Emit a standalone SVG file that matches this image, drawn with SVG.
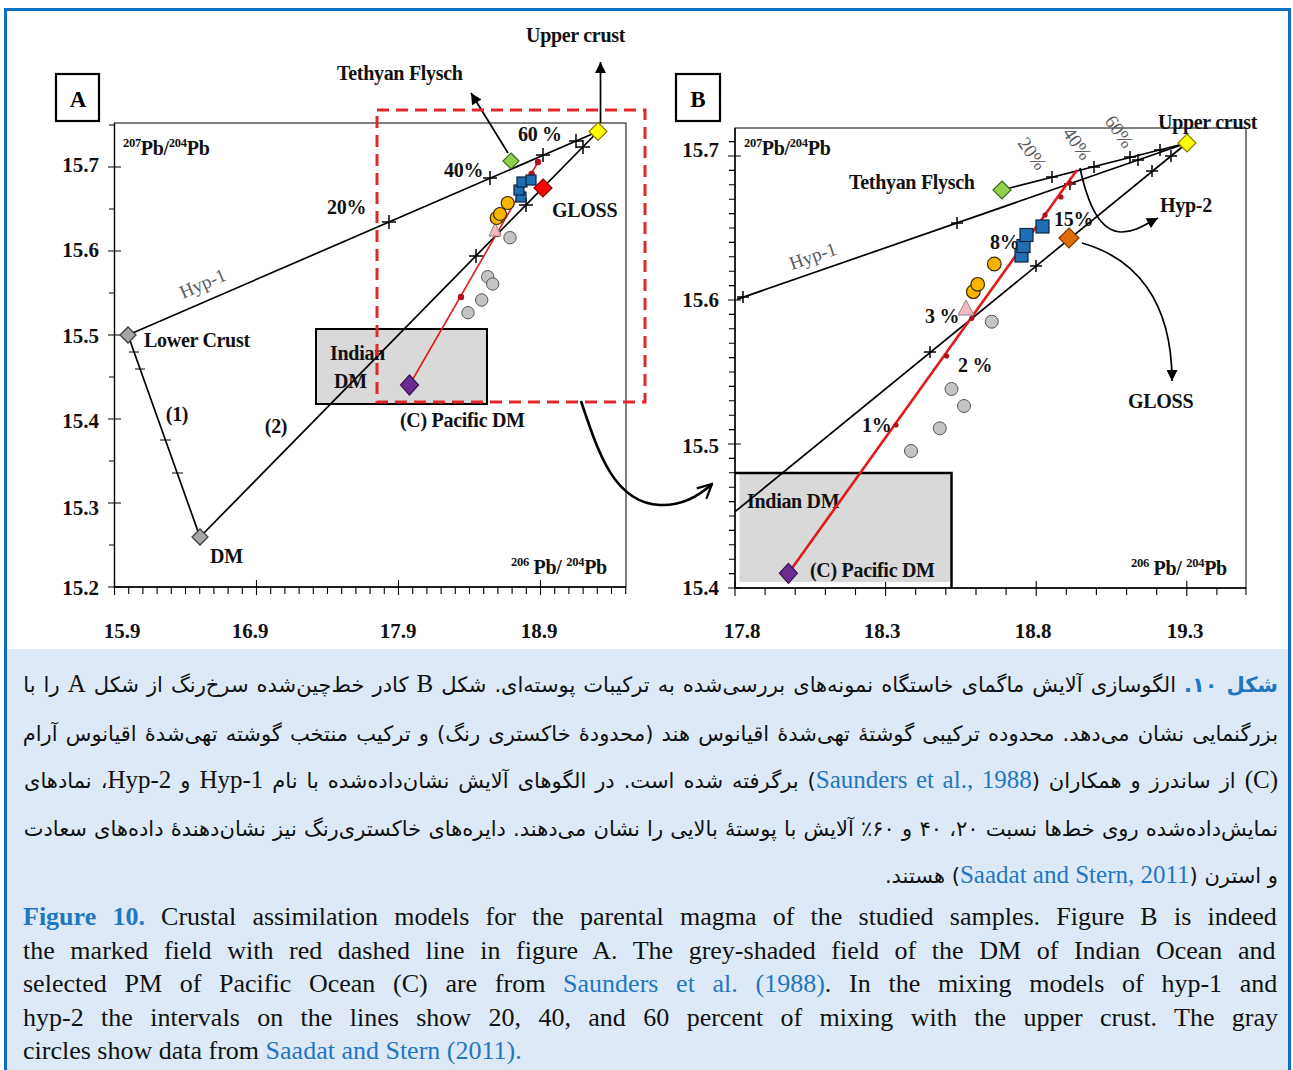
<svg xmlns="http://www.w3.org/2000/svg" width="1293" height="1070" viewBox="0 0 1293 1070">
<defs>
<style>
.frm{fill:none;stroke:#000;stroke-width:1}
.ax{fill:none;stroke:#000;stroke-width:1.4}
.tk{fill:none;stroke:#000;stroke-width:1.1}
.ln{fill:none;stroke:#000;stroke-width:1.7}
.cr{fill:none;stroke:#000;stroke-width:1.5}
.rd{fill:#b0101e}
.lb{font-family:'Liberation Serif',serif;font-weight:bold;font-size:20px;letter-spacing:-0.3px;fill:#111}
.nm{font-family:'Liberation Serif',serif;font-weight:bold;font-size:21px;fill:#111}
.gy{font-family:'Liberation Serif',serif;font-size:19px;fill:#5a5a5a}
.sup{font-size:12.5px}
.pbox{fill:#fff;stroke:#000;stroke-width:2.2}
.pan{font-family:'Liberation Serif',serif;font-weight:bold;font-size:23px;fill:#000}
.gd{fill:#a6a6a6;stroke:#404040;stroke-width:1.3}
.gc{fill:#c4c4c4;stroke:#555;stroke-width:1}
.oc{fill:#f7b500;stroke:#3a2a00;stroke-width:1.2}
.bs{fill:#1f6fb5;stroke:#0b2340;stroke-width:1.2}
.pt{fill:#f3b9c0;stroke:#888;stroke-width:1}
.idm{fill:#d9d9d9}
.en{font-family:'Liberation Serif',serif;font-size:26px;fill:#111}
.bl{fill:#1f77c2}
.fa{font-family:'DejaVu Sans',sans-serif;font-size:21px;fill:#111}
.la{font-family:'Liberation Serif',serif;font-size:25px}
</style>
<marker id="ah" viewBox="0 0 10 10" refX="10" refY="5" markerUnits="userSpaceOnUse" markerWidth="13" markerHeight="11" orient="auto"><path d="M0,0 L10,5 L0,10 z" fill="#000"/></marker>
<marker id="ch" viewBox="0 0 12 12" refX="11" refY="6" markerUnits="userSpaceOnUse" markerWidth="17" markerHeight="17" orient="auto"><path d="M1,1 L11,6 L1,11" fill="none" stroke="#000" stroke-width="1.6"/></marker>
</defs>

<rect x="0" y="0" width="1293" height="1070" fill="#fff"/>
<rect x="6.5" y="649" width="1282" height="421" fill="#dde9f6"/>
<rect x="5.5" y="9.5" width="1284" height="1075" fill="none" stroke="#0a6fc2" stroke-width="3"/>

<!-- ================= PANEL A ================= -->
<g id="panelA-axes">
<rect class="frm" x="114.5" y="123" width="511.5" height="464"/>
<path class="ax" d="M114.5 123V587H626"/>
<path class="tk" d="M108 587h13M108 503h13M108 419h13M108 335h13M108 251h13M108 167h13M109 545h5.5M109 461h5.5M109 377h5.5M109 293h5.5M109 209h5.5M109 125h5.5"/>
<path class="tk" d="M114.5 580v15M256.5 580v15M398.5 580v15M540.5 580v15M128.7 587v7M142.9 587v7M157.1 587v7M171.3 587v7M185.5 587v7M199.7 587v7M213.9 587v7M228.1 587v7M242.3 587v7M270.7 587v7M284.9 587v7M299.1 587v7M313.3 587v7M327.5 587v7M341.7 587v7M355.9 587v7M370.1 587v7M384.3 587v7M412.7 587v7M426.9 587v7M441.1 587v7M455.3 587v7M469.5 587v7M483.7 587v7M497.9 587v7M512.1 587v7M526.3 587v7M554.7 587v7M568.9 587v7M583.1 587v7M597.3 587v7M611.5 587v7M625.7 587v7"/>
<g class="nm" text-anchor="end">
<text x="99" y="172">15.7</text><text x="99" y="257">15.6</text><text x="99" y="343">15.5</text><text x="99" y="428">15.4</text><text x="99" y="515">15.3</text><text x="99" y="595">15.2</text>
</g>
<g class="nm" text-anchor="middle">
<text x="122" y="638">15.9</text><text x="250" y="638">16.9</text><text x="398" y="638">17.9</text><text x="539" y="638">18.9</text>
</g>
<text class="lb" x="123" y="155"><tspan class="sup" dy="-8">207</tspan><tspan dy="8">Pb/</tspan><tspan class="sup" dy="-8">204</tspan><tspan dy="8">Pb</tspan></text>
<text class="lb" x="511" y="574"><tspan class="sup" dy="-8">206</tspan><tspan dy="8"> Pb/ </tspan><tspan class="sup" dy="-8">204</tspan><tspan dy="8">Pb</tspan></text>
</g>
<g id="panelA-label"><rect class="pbox" x="56" y="74" width="43" height="47"/><text class="pan" x="78" y="107" text-anchor="middle">A</text></g>

<g id="A-indian-dm">
<rect class="idm" x="316" y="329" width="171" height="75" stroke="#000" stroke-width="2"/>
<text class="lb" x="330" y="360">Indian</text><text class="lb" x="334" y="388">DM</text>
</g>

<g id="connectors-A">
<path class="ln" d="M128 335L200 537"/>
<path class="tk" d="M129 352h10M135 369h10M160 440h11M172 473h11" stroke-width="1.4"/>
<path class="ln" d="M128 335L598 131.5"/>
<path class="ln" d="M200 537L598 131.5"/>
<path class="cr" d="M382 222h14M389 215v14M483 178h14M490 171v14M536 155h14M543 148v14M569 141h14M576 134v14M469 256h14M476 249v14M519 205h14M526 198v14M576 147h14M583 140v14"/>
<path d="M409.5 385L538 162" fill="none" stroke="#e01b1b" stroke-width="1.6"/>
<g class="rd"><circle cx="461" cy="297" r="3.2"/><circle cx="497.5" cy="234" r="3.2"/><circle cx="519" cy="197" r="3.2"/><circle cx="531.6" cy="174" r="3.2"/><circle cx="538" cy="162" r="3.2"/></g>
<path class="ln" d="M508 153L471 93" marker-end="url(#ah)" stroke-width="1.5"/>
<path class="ln" d="M600.5 123V62" marker-end="url(#ah)" stroke-width="1.5"/>
<text class="gy" transform="translate(183 299) rotate(-23.5)">Hyp-1</text>
<text class="lb" x="327" y="214">20%</text>
<text class="lb" x="444" y="177">40%</text>
<text class="lb" x="518" y="141">60 %</text>
<text class="lb" x="177" y="421" text-anchor="middle">(1)</text>
<text class="lb" x="276" y="433" text-anchor="middle">(2)</text>
</g>

<g id="A-samples">
<polygon class="pt" points="495,223 501,236 489,236"/>
<circle class="gc" cx="510" cy="237.7" r="6.2"/><circle class="gc" cx="487.7" cy="276.7" r="6.2"/><circle class="gc" cx="492.7" cy="284" r="6.2"/><circle class="gc" cx="481.7" cy="300" r="6.2"/><circle class="gc" cx="468" cy="312.7" r="6.2"/>
<circle class="oc" cx="496.7" cy="218" r="6.5"/><circle class="oc" cx="500" cy="214" r="6.5"/><circle class="oc" cx="507.7" cy="203" r="6.5"/>
<rect class="bs" x="516" y="192" width="10" height="10"/><rect class="bs" x="514" y="185" width="10" height="10"/><rect class="bs" x="517" y="177" width="10" height="10"/><rect class="bs" x="526" y="175" width="10" height="10"/>
</g>

<g id="A-lower-crust"><polygon class="gd" points="128,327 136,335 128,343 120,335"/><text class="lb" x="144" y="347">Lower Crust</text></g>
<g id="A-dm"><polygon class="gd" points="200,529 208,537 200,545 192,537"/><text class="lb" x="210" y="563">DM</text></g>
<g id="A-upper-crust"><polygon points="598,122.5 607,131.5 598,140.5 589,131.5" fill="#ffff00" stroke="#8a7a00" stroke-width="1.2"/><text class="lb" x="526" y="42">Upper crust</text></g>
<g id="A-tethyan"><polygon points="511,153 519,161 511,169 503,161" fill="#92d050" stroke="#3a6a1a" stroke-width="1.2"/><text class="lb" x="337" y="80">Tethyan Flysch</text></g>
<g id="A-gloss"><polygon points="543,179 552,188 543,197 534,188" fill="#ff0000" stroke="#800" stroke-width="1.2"/><text class="lb" x="552" y="217">GLOSS</text></g>
<g id="A-pacific"><polygon points="409.5,375 418.5,385 409.5,395 400.5,385" fill="#6a2c91" stroke="#3a1050" stroke-width="1.2"/><text class="lb" x="400" y="427">(C) Pacific DM</text></g>

<rect id="A-zoom-field" x="377" y="110" width="268" height="292" fill="none" stroke="#e3262b" stroke-width="3" stroke-dasharray="12 7"/>

<g id="connector-AtoB"><path d="M581 401C598 452 614 503 660 505C683 506 700 495 712 484" fill="none" stroke="#000" stroke-width="2.6" marker-end="url(#ch)"/></g>

<!-- ================= PANEL B ================= -->
<g id="panelB-axes">
<rect class="frm" x="735" y="128" width="511" height="460"/>
<path class="ax" d="M735 128V588H1246"/>
<path class="tk" d="M728 588h13M728 444h13M728 300h13M728 156h13M729 573.6h6M729 559.2h6M729 544.8h6M729 530.4h6M729 516h6M729 501.6h6M729 487.2h6M729 472.8h6M729 458.4h6M729 429.6h6M729 415.2h6M729 400.8h6M729 386.4h6M729 372h6M729 357.6h6M729 343.2h6M729 328.8h6M729 314.4h6M729 285.6h6M729 271.2h6M729 256.8h6M729 242.4h6M729 228h6M729 213.6h6M729 199.2h6M729 184.8h6M729 170.4h6M729 141.6h6"/>
<path class="tk" d="M735 581v15M885.6 581v15M1036.2 581v15M1186.8 581v15M765.1 588v7M795.2 588v7M825.4 588v7M855.5 588v7M915.7 588v7M945.8 588v7M976 588v7M1006.1 588v7M1066.3 588v7M1096.4 588v7M1126.6 588v7M1156.7 588v7M1216.9 588v7M1246 588v7"/>
<g class="nm" text-anchor="end">
<text x="719" y="157">15.7</text><text x="719" y="307">15.6</text><text x="719" y="453">15.5</text><text x="719" y="595">15.4</text>
</g>
<g class="nm" text-anchor="middle">
<text x="742" y="638">17.8</text><text x="882" y="638">18.3</text><text x="1033" y="638">18.8</text><text x="1185" y="638">19.3</text>
</g>
<text class="lb" x="744" y="155"><tspan class="sup" dy="-8">207</tspan><tspan dy="8">Pb/</tspan><tspan class="sup" dy="-8">204</tspan><tspan dy="8">Pb</tspan></text>
<text class="lb" x="1131" y="575"><tspan class="sup" dy="-8">206</tspan><tspan dy="8"> Pb/ </tspan><tspan class="sup" dy="-8">204</tspan><tspan dy="8">Pb</tspan></text>
</g>
<g id="panelB-label"><rect class="pbox" x="676" y="74" width="44" height="47"/><text class="pan" x="698" y="107" text-anchor="middle">B</text></g>

<g id="B-indian-dm">
<rect class="idm" x="739.5" y="474" width="211" height="108"/>
<path d="M735 473H951.5V588" fill="none" stroke="#000" stroke-width="2.5"/>
<text class="lb" x="747" y="508">Indian DM</text>
</g>

<g id="connectors-B">
<path class="ln" d="M737 299.4L1187 143"/>
<path class="ln" d="M1002 190L1187 143"/>
<path class="ln" d="M735 511.7L1187 143"/>
<path class="cr" d="M737 297h12M743 291v12M951 223h12M957 217v12M1064 184h12M1070 178v12M1132 160h12M1138 154v12M1046 177h12M1052 171v12M1088 167h12M1094 161v12M1124 157h12M1130 151v12M1154 150h12M1160 144v12M924 352h12M930 346v12M1030 266h12M1036 260v12M1146 171h12M1152 165v12M1165 156h12M1171 150v12" stroke-width="1.3"/>
<path d="M788.4 573.3L1077 170" fill="none" stroke="#e01b1b" stroke-width="2.6"/>
<g class="rd"><circle cx="896" cy="425" r="2.6"/><circle cx="946.6" cy="356" r="2.6"/><circle cx="971.7" cy="318.3" r="2.6"/><circle cx="1045" cy="215" r="2.6"/><circle cx="1061" cy="197" r="2.6"/><circle cx="1070" cy="183.3" r="2.6"/></g>
<path class="ln" d="M1080 168C1088 205 1100 232 1122 232C1134 232 1143 226 1158 218" marker-end="url(#ah)" stroke-width="1.5"/>
<path class="ln" d="M1082 243C1135 258 1172 300 1172 381" marker-end="url(#ah)" stroke-width="1.5"/>
<text class="gy" transform="translate(792 270) rotate(-19.2)" font-size="20">Hyp-1</text>
<text class="gy" transform="translate(1017 143) rotate(55)" font-size="20">20%</text>
<text class="gy" transform="translate(1062 133) rotate(55)" font-size="20">40%</text>
<text class="gy" transform="translate(1104 121) rotate(55)" font-size="20">60%</text>
<text class="lb" x="1054" y="226">15%</text>
<text class="lb" x="990" y="249">8%</text>
<text class="lb" x="925" y="323">3 %</text>
<text class="lb" x="958" y="372">2 %</text>
<text class="lb" x="862" y="432">1%</text>
<text class="lb" x="1160" y="212">Hyp-2</text>
</g>

<g id="B-samples">
<polygon class="pt" points="966,300 974,315 958,315"/>
<circle class="gc" cx="991.7" cy="321.7" r="6.5"/><circle class="gc" cx="951.5" cy="389" r="6.5"/><circle class="gc" cx="964" cy="406" r="6.5"/><circle class="gc" cx="939.8" cy="428.3" r="6.5"/><circle class="gc" cx="911" cy="451" r="6.5"/>
<circle class="oc" cx="973.3" cy="291.7" r="6.8"/><circle class="oc" cx="977.7" cy="284.3" r="6.8"/><circle class="oc" cx="994.3" cy="264" r="6.8"/>
<rect class="bs" x="1015" y="249" width="13" height="13"/><rect class="bs" x="1017" y="239.5" width="13" height="13"/><rect class="bs" x="1020" y="228.5" width="13" height="13"/><rect class="bs" x="1036" y="220" width="13" height="13"/>
</g>

<g id="B-upper-crust"><polygon points="1187,134 1196,143 1187,152 1178,143" fill="#ffff00" stroke="#8a7a00" stroke-width="1.2"/><text class="lb" x="1158" y="129">Upper crust</text></g>
<g id="B-tethyan"><polygon points="1002,181 1011,190 1002,199 993,190" fill="#92d050" stroke="#3a6a1a" stroke-width="1.2"/><text class="lb" x="849" y="189">Tethyan Flysch</text></g>
<g id="B-gloss"><polygon points="1069,228 1079,238 1069,248 1059,238" fill="#e36c0a" stroke="#7a3a00" stroke-width="1.2"/><text class="lb" x="1128" y="408">GLOSS</text></g>
<g id="B-pacific"><polygon points="788.4,563.3 797.4,573.3 788.4,583.3 779.4,573.3" fill="#6a2c91" stroke="#3a1050" stroke-width="1.2"/><text class="lb" x="810" y="577">(C) Pacific DM</text></g>

<!-- ================= CAPTION ================= -->
<g id="caption-fa">
<text class="fa" direction="rtl" x="1278" y="692" word-spacing="1.4"><tspan class="bl" font-weight="bold">شکل ۱۰.</tspan> الگوسازی آلایش ماگمای خاستگاه نمونه&#8204;های بررسی&#8204;شده به ترکیبات پوسته&#8204;ای. شکل <tspan class="la">B</tspan> کادر خط&#8204;چین&#8204;شده سرخ&#8204;رنگ از شکل <tspan class="la">A</tspan> را با</text>
<text class="fa" direction="rtl" x="1278" y="741" word-spacing="1.5">بزرگنمایی نشان می&#8204;دهد. محدوده ترکیبی گوشتهٔ تهی&#8204;شدهٔ اقیانوس هند (محدودهٔ خاکستری رنگ) و ترکیب منتخب گوشته تهی&#8204;شدهٔ اقیانوس آرام</text>
<text class="fa" direction="rtl" x="1278" y="788" word-spacing="2.3"><tspan class="la">(C)</tspan> از ساندرز و همکاران (<tspan class="la bl">Saunders et al., 1988</tspan>) برگرفته شده است. در الگوهای آلایش نشان&#8204;داده&#8204;شده با نام <tspan class="la">Hyp-1</tspan> و <tspan class="la">Hyp-2</tspan>، نمادهای</text>
<text class="fa" direction="rtl" x="1278" y="836" word-spacing="0.5">نمایش&#8204;داده&#8204;شده روی خط&#8204;ها نسبت ۲۰، ۴۰ و ۶۰٪ آلایش با پوستهٔ بالایی را نشان می&#8204;دهند. دایره&#8204;های خاکستری&#8204;رنگ نیز نشان&#8204;دهندهٔ داده&#8204;های سعادت</text>
<text class="fa" direction="rtl" x="1278" y="883">و استرن (<tspan class="la bl">Saadat and Stern, 2011</tspan>) هستند.</text>
</g>
<g id="caption-en" class="en">
<text x="23" y="925" word-spacing="9.7"><tspan class="bl" font-weight="bold">Figure 10.</tspan> Crustal assimilation models for the parental magma of the studied samples. Figure B is indeed</text>
<text x="23" y="958.5" word-spacing="9.1">the marked field with red dashed line in figure A. The grey-shaded field of the DM of Indian Ocean and</text>
<text x="23" y="992" word-spacing="11.2">selected PM of Pacific Ocean (C) are from <tspan class="bl">Saunders et al. (1988)</tspan>. In the mixing models of hyp-1 and</text>
<text x="23" y="1025.5" word-spacing="10.9">hyp-2 the intervals on the lines show 20, 40, and 60 percent of mixing with the upper crust. The gray</text>
<text x="23" y="1059">circles show data from <tspan class="bl">Saadat and Stern (2011).</tspan></text>
</g>
</svg>
